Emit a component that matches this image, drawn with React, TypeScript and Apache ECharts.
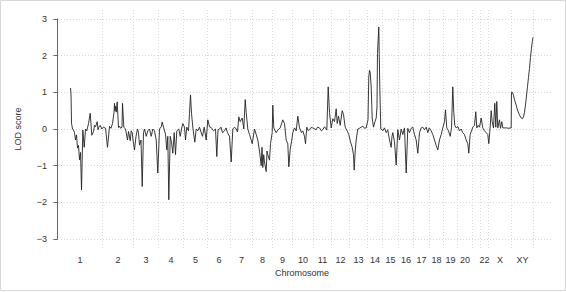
import React, { useEffect, useRef } from 'react';
import * as echarts from 'echarts';

// Chromosome names and lengths (map units)
const chromNames = ['1','2','3','4','5','6','7','8','9','10','11','12','13','14','15','16','17','18','19','20','21','22','X','XY'];
const chromLengths = [45,31,25,25,24,23,22,20,20,21,18,18,18,15,16,15,16,14,14,15,8,8,23,22];
const unlabeledChroms = ['21'];

// LOD profiles: [position within chromosome, LOD]
const chr1 = [[13,1.12],[13.5,0.95],[14,0.16],[15,0.0],[16,-0.03],[17,-0.1],[18,-0.3],[19,-0.16],[20,-0.52],[21,-0.45],[22,-0.84],[23,-0.64],[24,-1.66],[25.3,-0.03],[26.7,-0.5],[28,0],[29.3,-0.05],[31,0.15],[32.7,0.43],[34.3,-0.17],[36,-0.07],[37,0.1],[38,0.06],[39.7,0.2],[40.5,-0.02],[41.3,0.05],[42.7,0.1],[44.3,0]];
const chr2 = [[1,0.05],[3,0.02],[5,-0.5],[7,0.07],[8.5,0.02],[10,0.15],[11.5,0.45],[12,0.7],[12.5,0.5],[13,0.62],[13.7,0.46],[14.7,0.74],[16,0.04],[17,0.08],[18,0.02],[19.5,0.05],[20,0.7],[21.3,0.05],[23,0],[25,-0.3],[26,-0.07],[27.7,-0.32],[28.7,-0.05],[29.7,-0.1],[30.5,-0.3]];
const chr3 = [[1,-0.57],[2.5,-0.2],[4,0],[5,-0.1],[6,-0.44],[7.5,-0.3],[8.7,-1.57],[10,-0.1],[11,0],[12.7,-0.2],[14.3,-0.05],[16,0],[17.7,-0.2],[19.3,0],[21,-0.05],[22.7,-0.3],[24.3,-1.2]];
const chr4 = [[1,0],[2.7,0.06],[3.7,0.19],[5,0.05],[7,-0.14],[8.3,-0.57],[9.3,-0.2],[10.3,-1.93],[11.7,-0.2],[13,-0.36],[14.3,-0.66],[15.7,-0.1],[17,-0.7],[18.3,-0.05],[20.3,0],[21.7,-0.2],[23,0],[24.3,0.15]];
const chr5 = [[1,0.05],[2,-0.3],[3.3,0.05],[5,-0.05],[6,0.43],[7,0.93],[8,0.43],[9.3,0.05],[11.3,-0.36],[12.7,0],[14.3,-0.05],[16,0.05],[17.7,-0.1],[19,-0.2],[20.7,0.05],[22.7,-0.3]];
const chr6 = [[0.3,0.25],[2,0.06],[3.7,0.04],[6,-0.05],[8,0],[9.3,-0.75],[10.5,-0.02],[12,0],[13.5,0.05],[15,-0.1],[17,-0.05],[18.5,0.03],[20,-0.1],[22,-0.2]];
const chr7 = [[0.7,-0.9],[2.3,0],[4,0.05],[5.7,0],[7,-0.08],[8.3,0.33],[9.7,0.2],[11.7,0.3],[13.3,0],[14.7,0.8],[15.7,0.45],[17.3,0],[19,-0.15],[20.7,-0.3],[21.7,-0.4]];
const chr8 = [[2,0],[3.7,-0.15],[5.3,-0.3],[7,-0.6],[8.7,-1.0],[9.5,-0.5],[10.3,-1.05],[11.2,-0.7],[12,-0.9],[13.7,-1.16],[14.5,-0.6],[15.3,-0.7],[17,-0.85],[18,-0.4],[19.7,-0.1]];
const chr9 = [[0.3,0.65],[1.3,0.03],[3.7,-0.1],[5.3,-0.03],[7.7,0.03],[10.3,0.25],[12,0.15],[13.7,-0.3],[15.3,-0.4],[16.3,-1.03],[17.7,-0.55],[19,-0.35]];
const chr10 = [[0.3,-0.1],[2,0.03],[3.7,-0.05],[5.3,0.35],[7,0.03],[9,-0.1],[10.3,-0.05],[12,-0.2],[13,-0.4],[14.3,0.05],[15.5,-0.04],[17,-0.02],[18.5,0.04],[20.3,0.03]];
const chr11 = [[2.7,-0.02],[4,0.05],[6,0.03],[8,-0.05],[9.3,-0.02],[11,0.06],[12,0.03],[13.3,-0.03],[14.7,1.15],[16,0.45],[17.7,0.03]];
const chr12 = [[1.3,0.28],[3,0.2],[4.7,0.55],[5.7,0.15],[7,0.35],[8.7,0.1],[10.7,0.5],[12,0.4],[13.7,0.05],[15.3,-0.03],[17.3,-0.15]];
const chr13 = [[1,-0.35],[2.7,-0.5],[4,-0.7],[4.7,-1.12],[5.7,-0.6],[6.7,-0.3],[8.3,0],[10,0.02],[11.7,0.05],[13.3,0.08],[15,0.02],[16.7,0.03]];
const chr14 = [[0.5,0.25],[1.3,1.42],[2,1.6],[2.7,1.55],[3.7,1.15],[4.7,0.3],[6,0.05],[7.5,0.2],[8.7,0.3],[9.5,0.6],[10,2.06],[11.3,2.78],[12.3,1.15],[13.3,0],[14.5,-0.02]];
const chr15 = [[0.3,-0.05],[2,0.03],[3.7,-0.1],[5.3,-0.02],[7,-0.3],[8.7,-0.5],[9.5,-0.2],[10.3,-0.1],[12,-0.35],[13.7,-0.98],[15.3,-0.02]];
const chr16 = [[1,-0.3],[2.7,0],[4.3,-0.15],[6,0.03],[7.7,-1.2],[9.3,0.02],[11,-0.1],[12.7,0.02],[14.3,0.05]];
const chr17 = [[1,-0.15],[2.7,-0.3],[4.3,-0.66],[6,-0.1],[7.7,0.03],[9.3,0.05],[11,-0.02],[12.7,0.05],[14.3,-0.1],[15.7,0.03]];
const chr18 = [[1.7,-0.05],[3.3,-0.15],[5,-0.3],[6.7,-0.45],[8.3,-0.57],[10,-0.3],[11.7,-0.15],[13.3,0.03]];
const chr19 = [[1,0.2],[2,0.52],[3.3,0.03],[5,-0.05],[6.7,-0.2],[8,0.03],[9.3,1.15],[10.3,0.45],[11.3,0.1],[12.7,0.03]];
const chr20 = [[0.3,0.07],[2,-0.05],[3.7,0],[5.3,-0.1],[7,-0.15],[8.7,-0.3],[10.3,-0.4],[11.3,-0.66],[12.7,-0.15],[14,-0.05]];
const chr21 = [[0.3,0.05],[2,0.1],[3.3,0.47],[4.3,0.03],[5.7,0.1],[7,0.05]];
const chr22 = [[0.7,0.3],[2.3,0.03],[4,-0.05],[5.7,-0.1],[7.3,-0.15]];
const chrX = [[0.3,-0.4],[1.7,0.05],[2.7,0.5],[3.7,0.2],[5,0.03],[6.3,0.7],[7.3,0.05],[8.3,0.75],[9.3,0.03],[11,0.25],[12,0.02],[13.3,0.2],[14.3,0.03],[16,0.03],[18,0.03],[20,0.02],[22.7,0.03]];
const chrXY = [[0,1.0],[1,1.0],[2,0.92],[3,0.8],[4.7,0.65],[6,0.52],[8,0.38],[9.7,0.3],[11,0.28],[12,0.33],[13,0.45],[14,0.65],[15,0.9],[16,1.15],[17,1.4],[18,1.65],[19,1.95],[20,2.2],[21,2.42],[21.5,2.5]];

const lodByChrom = [chr1,chr2,chr3,chr4,chr5,chr6,chr7,chr8,chr9,chr10,chr11,chr12,chr13,chr14,chr15,chr16,chr17,chr18,chr19,chr20,chr21,chr22,chrX,chrXY];
const yTicks = [-3, -2, -1, 0, 1, 2, 3];

export default function App() {
  const ref = useRef<HTMLDivElement>(null);
  useEffect(() => {
    const chart = echarts.init(ref.current!, null, { renderer: 'svg' });
    const starts: number[] = [];
    let acc = 0;
    chromLengths.forEach((l) => { starts.push(acc); acc += l; });
    const total = acc;
    const ends = starts.map((s, i) => s + chromLengths[i]);
    const mids = starts.map((s, i) => s + chromLengths[i] / 2);
    const data: number[][] = [];
    lodByChrom.forEach((arr, i) => arr.forEach(([p, v]) => data.push([starts[i] + p, v])));
    const firstPos = data[0][0];
    const span = total - firstPos;
    const xMin = firstPos - 0.04 * span;
    const xMax = total + 0.04 * span;
    const labelMids = mids.filter((_, i) => !unlabeledChroms.includes(chromNames[i]));
    const nameAt = (v: number) => {
      let best = 0, bd = Infinity;
      mids.forEach((m, i) => { const d = Math.abs(m - v); if (d < bd) { bd = d; best = i; } });
      return chromNames[best];
    };
    const gridColor = '#d9d9d9';
    const textColor = '#333';
    const font = 'Liberation Sans, Arial, sans-serif';
    chart.setOption({
      animation: false,
      backgroundColor: '#fff',
      graphic: [{
        type: 'rect', shape: { x: 0.5, y: 0.5, width: 565, height: 290 },
        style: { fill: 'none', stroke: '#d6d6d6', lineWidth: 1 }, silent: true,
      }],
      grid: [
        { left: 52, right: 14, top: 19, bottom: 53, outerBoundsMode: 'none' },
        { left: 52, right: 14, top: 10, bottom: 44, outerBoundsMode: 'none' },
      ],
      xAxis: [
        { type: 'value', gridIndex: 0, min: xMin, max: xMax, show: false },
        {
          type: 'value', gridIndex: 1, min: xMin, max: xMax,
          name: 'Chromosome', nameLocation: 'middle', nameGap: 18,
          nameTextStyle: { fontSize: 9, color: textColor, fontFamily: font },
          axisLine: { show: false },
          axisTick: { show: false, customValues: ends },
          axisLabel: {
            customValues: labelMids, fontSize: 9, color: textColor, fontFamily: font, margin: 7,
            formatter: (v: number) => nameAt(v),
          },
          splitLine: { show: true, lineStyle: { color: gridColor, type: [1, 2], width: 1 } },
        },
      ],
      yAxis: [
        {
          type: 'value', gridIndex: 0, min: -3, max: 3, interval: 1,
          name: 'LOD score', nameLocation: 'middle', nameGap: 30, nameRotate: 90,
          nameTextStyle: { fontSize: 9, color: textColor, fontFamily: font },
          axisLine: { show: true, lineStyle: { color: '#666', width: 1 } },
          axisTick: { show: true, inside: false, length: 4, customValues: yTicks, lineStyle: { color: '#666' } },
          axisLabel: { customValues: yTicks, fontSize: 9, color: textColor, fontFamily: font, margin: 5,
            formatter: (v: number) => (v < 0 ? '\u2212' + Math.abs(v) : String(v)) },
          splitLine: { show: true, lineStyle: { color: gridColor, type: [1, 2], width: 1 } },
        },
        { type: 'value', gridIndex: 1, min: 0, max: 1, show: false, splitLine: { show: false } },
      ],
      series: [{
        type: 'line', xAxisIndex: 0, yAxisIndex: 0, data,
        showSymbol: false, symbol: 'none',
        lineStyle: { color: '#222', width: 0.9 },
        silent: true,
      }],
    });
    return () => chart.dispose();
  }, []);
  return <div ref={ref} style={{ position: 'fixed', left: 0, top: 0, width: 566, height: 292 }} />;
}
